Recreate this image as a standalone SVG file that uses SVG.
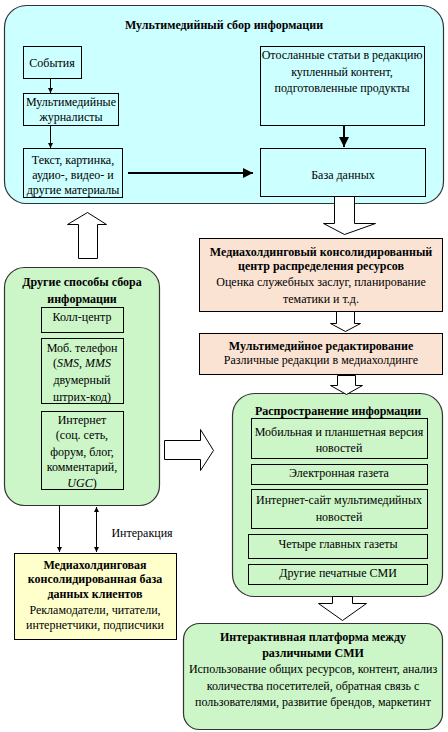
<svg xmlns="http://www.w3.org/2000/svg" width="448" height="732" viewBox="0 0 448 732">
<defs>
<style>
text{font-family:"Liberation Serif","Times New Roman",serif;font-size:12px;fill:#000;text-anchor:middle}
.b{font-weight:bold}
.i{font-style:italic}
.cont{stroke:#333;stroke-width:1.2}
.box{stroke:#000;stroke-width:1}
.cy{fill:#ccffff}
.gr{fill:#ccf5c8}
.or{fill:#fbe3d4}
.ye{fill:#ffffcc}
.blk{fill:#fff;stroke:#000;stroke-width:1}
.ln{stroke:#000;fill:none}
</style>
<marker id="ah" viewBox="0 0 10 10" refX="10" refY="5" markerWidth="5" markerHeight="5" orient="auto-start-reverse" markerUnits="userSpaceOnUse"><path d="M0,0L10,5L0,10z" fill="#000"/></marker>
<marker id="ahb" viewBox="0 0 10 10" refX="10" refY="5" markerWidth="12" markerHeight="10" orient="auto" markerUnits="userSpaceOnUse"><path d="M0,0L10,5L0,10z" fill="#000"/></marker>
</defs>

<g id="collect">
<rect class="cont cy" x="4.5" y="5.5" width="439" height="198" rx="22"/>
<text class="b" x="224" y="29">Мультимедийный сбор информации</text>
</g>
<g id="events"><rect class="box cy" x="23.5" y="46.5" width="58" height="32"/><text x="52" y="67">События</text></g>
<g id="journalists"><rect class="box cy" x="23.5" y="93.5" width="95" height="32"/><text x="71" y="106">Мультимедийные</text><text x="71" y="121">журналисты</text></g>
<g id="materials"><rect class="box cy" x="23.5" y="148.5" width="99" height="49"/><text x="73" y="164">Текст, картинка,</text><text x="73" y="179">аудио-, видео- и</text><text x="73" y="194">другие материалы</text></g>
<g id="sent"><rect class="box cy" x="260.5" y="46.5" width="164" height="79"/><text x="342" y="59">Отосланные  статьи в редакцию</text><text x="342" y="76">купленный контент,</text><text x="342" y="92">подготовленные продукты</text></g>
<g id="db"><rect class="box cy" x="260.5" y="148.5" width="165" height="48"/><text x="343" y="179">База данных</text></g>

<g id="center"><rect class="box or" x="199.5" y="238.5" width="243" height="73"/>
<text class="b" x="321" y="256">Медиахолдинговый консолидированный</text>
<text class="b" x="321" y="270">центр распределения ресурсов</text>
<text x="321" y="286">Оценка служебных заслуг, планирование</text>
<text x="321" y="303">тематики и т.д.</text></g>

<g id="editing"><rect class="box or" x="199.5" y="333.5" width="243" height="41"/>
<text class="b" x="321" y="350">Мультимедийное редактирование</text>
<text x="321" y="364">Различные редакции в медиахолдинге</text></g>

<g id="other">
<rect class="cont gr" x="4.5" y="267.5" width="155" height="238" rx="20"/>
<text class="b" x="82" y="286">Другие способы сбора</text>
<text class="b" x="82" y="303">информации</text>
<rect class="box gr" x="41.5" y="307.5" width="82" height="25"/><text x="82" y="321">Колл-центр</text>
<rect class="box gr" x="41.5" y="338.5" width="82" height="65"/>
<text x="82" y="352">Моб. телефон</text>
<text x="82" y="367">(<tspan class="i">SMS</tspan>, <tspan class="i">MMS</tspan></text>
<text x="82" y="384">двумерный</text>
<text x="82" y="401">штрих-код)</text>
<rect class="box gr" x="41.5" y="411.5" width="82" height="78"/>
<text x="82" y="424">Интернет</text>
<text x="82" y="439">(соц. сеть,</text>
<text x="82" y="456">форум, блог,</text>
<text x="82" y="471">комментарий,</text>
<text x="82" y="487"><tspan class="i">UGC</tspan>)</text>
</g>

<g id="clients"><rect class="box ye" x="14.5" y="553.5" width="162" height="86"/>
<text class="b" x="95" y="569">Медиахолдинговая</text>
<text class="b" x="95" y="583">консолидированная база</text>
<text class="b" x="95" y="598">данных клиентов</text>
<text x="95" y="614">Рекламодатели, читатели,</text>
<text x="95" y="629">интернетчики, подписчики</text></g>

<g id="distribution">
<rect class="cont gr" x="232.5" y="393.5" width="210" height="203" rx="22"/>
<text class="b" x="338" y="415">Распространение информации</text>
<rect class="box gr" x="251.5" y="418.5" width="176" height="40"/><text x="339" y="436">Мобильная и планшетная версия</text><text x="339" y="452">новостей</text>
<rect class="box gr" x="251.5" y="464.5" width="176" height="20"/><text x="339" y="477">Электронная газета</text>
<rect class="box gr" x="251.5" y="489.5" width="176" height="39"/><text x="339" y="504">Интернет-сайт мультимедийных</text><text x="339" y="521">новостей</text>
<rect class="box gr" x="248.5" y="534.5" width="179" height="24"/><text x="338" y="548">Четыре главных газеты</text>
<rect class="box gr" x="248.5" y="564.5" width="179" height="20"/><text x="338" y="577">Другие печатные СМИ</text>
</g>

<g id="platform"><rect class="cont gr" x="183.5" y="623.5" width="259" height="106" rx="16"/>
<text class="b" x="313" y="641">Интерактивная платформа между</text>
<text class="b" x="313" y="657">различными СМИ</text>
<text x="313" y="673">Использование общих ресурсов, контент, анализ</text>
<text x="313" y="690">количества посетителей, обратная связь с</text>
<text x="313" y="706">пользователями, развитие брендов, маркетинт</text></g>

<g id="connectors">
<line class="ln" x1="50.5" y1="78" x2="50.5" y2="93" marker-end="url(#ah)"/>
<line class="ln" x1="50.5" y1="125" x2="50.5" y2="148" marker-end="url(#ah)"/>
<line class="ln" x1="128" y1="173" x2="253" y2="173" stroke-width="2" marker-end="url(#ahb)"/>
<line class="ln" x1="344" y1="126" x2="344" y2="147" stroke-width="2" marker-end="url(#ahb)"/>
<line class="ln" x1="59.5" y1="505" x2="59.5" y2="552" marker-end="url(#ah)"/>
<line class="ln" x1="96.5" y1="507" x2="96.5" y2="552" marker-start="url(#ah)" marker-end="url(#ah)"/>
<text x="142" y="537">Интеракция</text>
<path class="blk" d="M334.5,196.5V223.5H323.5L344.5,234.5L375.5,223.5H354.5V196.5Z"/>
<path class="blk" d="M336.5,311.5V323.5H330.5L345.5,331.5L360.5,323.5H354.5V311.5Z"/>
<path class="blk" d="M337.5,375.5V385.5H330.5L346.5,394.5L362.5,385.5H355.5V375.5Z"/>
<path class="blk" d="M332.5,596.5V603.5H318.5L342.5,620.5L366.5,603.5H352.5V596.5Z"/>
<path class="blk" d="M78.5,258.5V224.5H67.5L87.5,212.5L106.5,224.5H97.5V258.5Z"/>
<path class="blk" d="M164.5,440.5H200.5V429.5L213.5,450.5L200.5,470.5V459.5H164.5Z"/>
</g>
</svg>
